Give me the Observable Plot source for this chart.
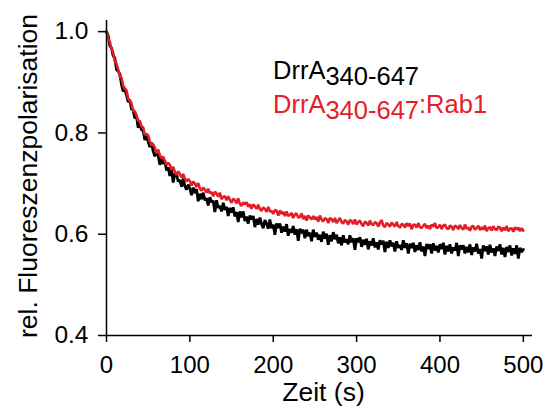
<!DOCTYPE html>
<html><head><meta charset="utf-8">
<script src="https://cdn.jsdelivr.net/npm/d3@7"></script>
<script src="https://cdn.jsdelivr.net/npm/@observablehq/plot@0.6"></script>
<style>
body{margin:0;background:#fff;}
#wrap{width:547px;height:407px;}
</style></head><body><div id="wrap"></div>
<script>
// sampling grid of the recorded traces (seconds)
const t0 = 0, dt = 2;
// DrrA340-647 (black)
const drrA = [
1.000,0.992,0.972,0.968,0.952,0.948,0.925,0.922,0.916,0.896,
0.882,0.886,0.875,0.861,0.865,0.847,0.845,0.829,0.833,0.810,
0.820,0.806,0.805,0.786,0.796,0.783,0.772,0.781,0.764,0.754,
0.762,0.755,0.737,0.751,0.739,0.745,0.726,0.732,0.715,0.728,
0.702,0.719,0.720,0.704,0.707,0.694,0.710,0.695,0.688,0.698,
0.690,0.677,0.692,0.681,0.689,0.665,0.680,0.669,0.682,0.667,
0.671,0.657,0.673,0.663,0.666,0.644,0.667,0.652,0.656,0.645,
0.662,0.648,0.654,0.636,0.652,0.643,0.653,0.635,0.644,0.624,
0.645,0.633,0.645,0.626,0.635,0.621,0.637,0.629,0.636,0.614,
0.630,0.619,0.633,0.620,0.612,0.628,0.621,0.611,0.629,0.612,
0.619,0.599,0.621,0.612,0.621,0.603,0.615,0.605,0.620,0.597,
0.610,0.603,0.616,0.599,0.610,0.587,0.611,0.602,0.609,0.592,
0.609,0.596,0.603,0.586,0.609,0.595,0.603,0.589,0.599,0.585,
0.605,0.591,0.601,0.579,0.598,0.586,0.604,0.590,0.599,0.582,
0.594,0.578,0.598,0.584,0.590,0.580,0.598,0.584,0.592,0.569,
0.592,0.584,0.594,0.575,0.589,0.579,0.591,0.570,0.586,0.578,
0.592,0.574,0.584,0.570,0.588,0.580,0.587,0.565,0.585,0.573,
0.588,0.576,0.583,0.566,0.586,0.573,0.579,0.569,0.588,0.573,
0.582,0.562,0.581,0.573,0.583,0.565,0.578,0.569,0.584,0.566,
0.576,0.557,0.581,0.571,0.580,0.562,0.582,0.568,0.577,0.564,
0.580,0.571,0.583,0.560,0.577,0.566,0.580,0.562,0.574,0.568,
0.583,0.557,0.578,0.570,0.578,0.562,0.575,0.564,0.580,0.559,
0.574,0.566,0.581,0.562,0.571,0.552,0.578,0.567,0.576,0.560,
0.579,0.564,0.572,0.557,0.576,0.567,0.580,0.560,0.573,0.555,
0.575,0.565,0.578,0.558,0.572,0.561,0.578,0.552,0.573,0.565,
0.570];
// DrrA340-647:Rab1 (red)
const drrARab1 = [
1.000,0.986,0.980,0.966,0.959,0.941,0.937,0.925,0.912,0.909,
0.893,0.888,0.884,0.868,0.863,0.858,0.843,0.843,0.835,0.823,
0.824,0.813,0.811,0.796,0.798,0.795,0.783,0.776,0.778,0.771,
0.760,0.767,0.756,0.750,0.753,0.745,0.737,0.741,0.737,0.727,
0.733,0.723,0.717,0.724,0.719,0.712,0.719,0.710,0.704,0.709,
0.705,0.696,0.704,0.700,0.693,0.701,0.690,0.686,0.692,0.688,
0.682,0.690,0.681,0.683,0.675,0.684,0.680,0.674,0.682,0.669,
0.674,0.675,0.667,0.675,0.668,0.662,0.670,0.667,0.661,0.671,
0.660,0.656,0.663,0.659,0.663,0.654,0.659,0.650,0.659,0.655,
0.650,0.658,0.650,0.646,0.653,0.650,0.644,0.654,0.645,0.646,
0.640,0.648,0.646,0.637,0.647,0.640,0.644,0.636,0.645,0.636,
0.638,0.642,0.632,0.639,0.641,0.633,0.634,0.641,0.630,0.636,
0.627,0.637,0.633,0.629,0.636,0.629,0.634,0.625,0.637,0.629,
0.625,0.632,0.630,0.622,0.632,0.630,0.624,0.632,0.622,0.627,
0.632,0.624,0.621,0.628,0.625,0.619,0.628,0.626,0.620,0.629,
0.619,0.624,0.627,0.620,0.616,0.625,0.622,0.617,0.627,0.620,
0.618,0.624,0.622,0.615,0.623,0.628,0.617,0.614,0.622,0.619,
0.615,0.623,0.619,0.615,0.624,0.616,0.613,0.620,0.619,0.613,
0.622,0.616,0.621,0.610,0.618,0.619,0.613,0.622,0.614,0.612,
0.617,0.620,0.612,0.617,0.610,0.619,0.615,0.622,0.612,0.614,
0.619,0.610,0.617,0.619,0.612,0.610,0.617,0.615,0.608,0.617,
0.615,0.610,0.618,0.612,0.609,0.619,0.611,0.613,0.607,0.615,
0.616,0.609,0.612,0.617,0.608,0.614,0.609,0.617,0.606,0.612,
0.614,0.607,0.616,0.610,0.608,0.615,0.613,0.606,0.613,0.608,
0.616,0.606,0.611,0.612,0.605,0.614,0.609,0.613,0.606,0.612,
0.607];
const xTicks = [0, 100, 200, 300, 400, 500];
const yTicks = [0.4, 0.6, 0.8, 1.0];
const xLabel = "Zeit (s)";
const yLabel = "rel. Fluoreszenzpolarisation";
const legendMain = ["DrrA", "DrrA"];
const legendSub = ["340-647", "340-647"];
const legendSuffix = ["", ":Rab1"];
const seriesNames = ["DrrA340-647", "DrrA340-647:Rab1"];
const seriesColors = ["#000000", "#e41e26"];
const seriesWidths = [2.8, 2.6];

const FONT = "'Liberation Sans', Arial, Helvetica, sans-serif";
const rows = [];
[drrA, drrARab1].forEach((arr, k) => arr.forEach((v, i) => rows.push({t: t0 + i * dt, v, s: seriesNames[k]})));

const chart = Plot.plot({
  width: 547, height: 407,
  marginLeft: 106, marginRight: 15, marginTop: 20, marginBottom: 72,
  style: {fontFamily: FONT, fontSize: "24px", color: "#000", background: "#fff"},
  x: {domain: [0, 511]},
  y: {domain: [0.4, 1.022]},
  color: {domain: seriesNames, range: seriesColors},
  marks: [
    Plot.axisX({ticks: xTicks, tickSize: 7, tickPadding: 13, fontSize: 24, label: null, strokeWidth: 1.5}),
    Plot.axisY({ticks: yTicks, tickSize: 8, tickPadding: 10, fontSize: 24.5, label: null, strokeWidth: 1.5, tickFormat: d3.format(".1f")}),
    ...seriesNames.map((name, k) =>
      Plot.line(rows.filter(d => d.s === name), {x: "t", y: "v", stroke: "s", strokeWidth: seriesWidths[k], strokeLinejoin: "miter"})),
    Plot.ruleX([0], {stroke: "#000", strokeWidth: 1.5}),
    Plot.ruleY([0.4], {stroke: "#000", strokeWidth: 1.5}),
    Plot.text([xLabel], {frameAnchor: "bottom", lineAnchor: "bottom", dy: 65, dx: 4, fontSize: 26.5, fill: "#000"}),
    Plot.text([yLabel], {frameAnchor: "left", textAnchor: "middle", lineAnchor: "bottom", rotate: -90, dx: -70, dy: -2, fontSize: 26.5, fill: "#000"})
  ]
});
document.getElementById("wrap").appendChild(chart);

// legend (text with lowered subscript)
const svg = d3.select(chart);
const legY = [79, 113];
legendMain.forEach((m, k) => {
  const t = svg.append("text").attr("x", 273).attr("y", legY[k]).attr("text-anchor", "start")
    .attr("font-family", FONT).attr("font-size", 25.5).attr("fill", seriesColors[k]);
  t.append("tspan").text(m);
  t.append("tspan").attr("dy", 6).text(legendSub[k]);
  if (legendSuffix[k]) t.append("tspan").attr("dy", -6).text(legendSuffix[k]);
});
</script></body></html>
